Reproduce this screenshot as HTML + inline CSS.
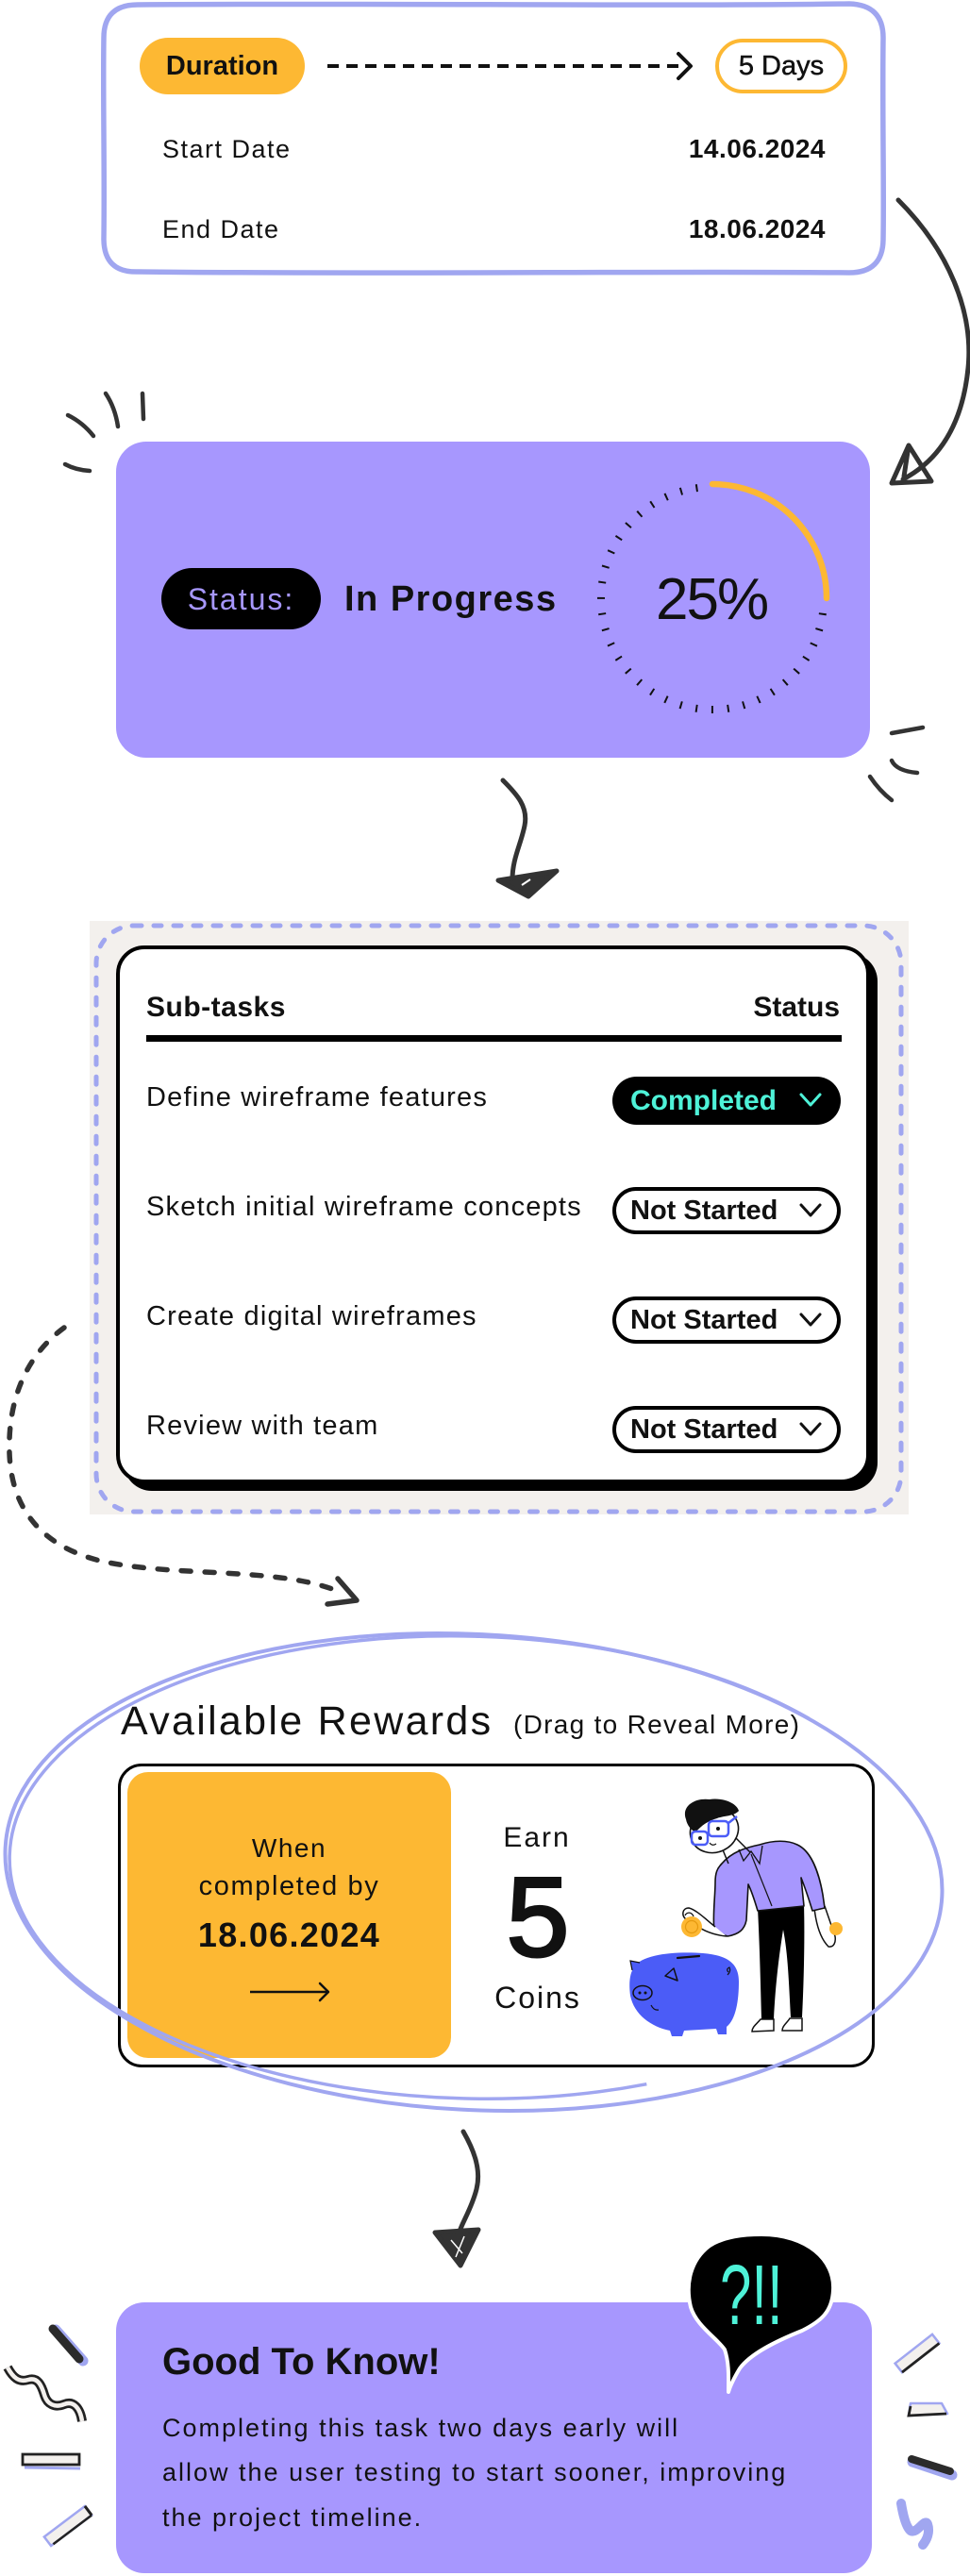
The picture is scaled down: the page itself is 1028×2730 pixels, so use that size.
<!DOCTYPE html>
<html>
<head>
<meta charset="utf-8">
<style>
  html,body{margin:0;padding:0;background:#fff;}
  body{width:1028px;height:2730px;position:relative;overflow:hidden;font-family:"Liberation Sans",Arial,sans-serif;color:#111;}
  .abs{position:absolute;}
  .t{position:absolute;line-height:1;white-space:nowrap;}
  .pill{position:absolute;box-sizing:border-box;display:flex;align-items:center;}
  svg{position:absolute;left:0;top:0;}
</style>
</head>
<body>

<!-- Backgrounds -->
<div class="abs" style="left:123px;top:468px;width:799px;height:335px;background:#A797FE;border-radius:32px;"></div>
<div class="abs" style="left:95px;top:976px;width:868px;height:629px;background:#F3F0ED;"></div>
<div class="abs" style="left:123px;top:1002px;width:799px;height:570px;box-sizing:border-box;background:#fff;border:4.5px solid #000;border-radius:30px;box-shadow:8px 8px 0 0 #000;"></div>
<div class="abs" style="left:125px;top:1869px;width:802px;height:322px;box-sizing:border-box;background:#fff;border:3.5px solid #000;border-radius:25px;"></div>
<div class="abs" style="left:135px;top:1878px;width:343px;height:303px;background:#FDB833;border-radius:22px;"></div>
<div class="abs" style="left:123px;top:2440px;width:801px;height:287px;background:#A797FE;border-radius:30px;"></div>

<!-- Status pill -->
<div class="pill" style="left:171px;top:602px;width:169px;height:65px;background:#000;border-radius:33px;justify-content:center;">
  <span style="font-size:32px;letter-spacing:2px;color:#A797FE;line-height:1;">Status:</span>
</div>

<!-- Duration pill -->
<div class="pill" style="left:148px;top:40px;width:175px;height:60px;background:#FDB833;border-radius:30px;justify-content:center;">
  <span style="font-size:29px;font-weight:bold;line-height:1;color:#111;">Duration</span>
</div>
<div class="pill" style="left:758px;top:41px;width:140px;height:58px;border:4px solid #FDB833;border-radius:29px;justify-content:center;background:#fff;">
  <span style="font-size:29px;line-height:1;color:#111;-webkit-text-stroke:0.5px #111;">5 Days</span>
</div>

<!-- SVG drawings -->
<svg width="1028" height="2730" viewBox="0 0 1028 2730" xmlns="http://www.w3.org/2000/svg">
  <!-- card 1 border -->
  <path d="M146,5 C400,3 700,7 900,4 Q936,5 936,40 C935,120 937,200 936,253 Q936,289 900,289 C700,287 400,291 146,288 Q110,289 110,253 C111,180 109,100 110,40 Q110,5 146,5 Z" fill="none" stroke="#A0A6F0" stroke-width="5.5"/>
  <!-- dashed duration arrow -->
  <line x1="347" y1="70" x2="726" y2="70" stroke="#111" stroke-width="4" stroke-dasharray="12 8"/>
  <polyline points="719,57 732,70 719,83" fill="none" stroke="#111" stroke-width="4" stroke-linecap="round" stroke-linejoin="round"/>

  <!-- curved arrow card1 -> card2 -->
  <path d="M952,212 C1005,265 1032,330 1026,390 C1020,450 995,488 957,508" fill="none" stroke="#333" stroke-width="5" stroke-linecap="round"/>
  <path d="M945,512 L963,472 L987,510 Z M963,472 L958,505" fill="none" stroke="#333" stroke-width="5" stroke-linejoin="round" stroke-linecap="round"/>

  <!-- decor around card 2 -->
  <g fill="none" stroke="#333" stroke-width="4.5" stroke-linecap="round">
    <path d="M72,440 Q88,448 99,462"/>
    <path d="M112,417 Q122,432 125,452"/>
    <path d="M151,417 L152,444"/>
    <path d="M69,492 Q80,498 95,499"/>
    <path d="M945,777 L978,771"/>
    <path d="M945,806 Q950,817 972,819"/>
    <path d="M922,823 Q932,838 945,848"/>
  </g>

  <!-- progress circle -->
  <path d="M872.71,642.23 A118,118 0 1 1 746.77,516.29" fill="none" stroke="#111" stroke-width="8" stroke-dasharray="2 14.85" stroke-dashoffset="-7.61"/>
  <path d="M755,513 A121,121 0 0 1 876,634" fill="none" stroke="#FDB833" stroke-width="6.5" stroke-linecap="round"/>

  <!-- arrow card2 -> subtasks -->
  <path d="M533,827 C548,842 560,855 556,875 C552,895 543,910 543,932" fill="none" stroke="#333" stroke-width="5" stroke-linecap="round"/>
  <path d="M528,933 L590,923 L560,950 Z" fill="#333" stroke="#333" stroke-width="5" stroke-linejoin="round"/>
  <path d="M553,938 L562,932" stroke="#fff" stroke-width="2"/>

  <!-- dashed lavender frame -->
  <rect x="102" y="981" width="853" height="621" rx="40" fill="none" stroke="#A0A6F0" stroke-width="5" stroke-dasharray="8 13" stroke-linecap="round"/>

  <!-- header line -->
  <rect x="155" y="1097" width="737" height="7" fill="#000"/>

  <!-- dashed left arc -->
  <path d="M68,1407 C30,1435 8,1480 10,1540 C12,1600 45,1640 110,1655 C190,1672 300,1660 362,1688" fill="none" stroke="#333" stroke-width="5.5" stroke-dasharray="10 15" stroke-linecap="round"/>
  <polyline points="358,1673 378,1696 347,1700" fill="none" stroke="#333" stroke-width="5.5" stroke-linecap="round" stroke-linejoin="round"/>

  <!-- reward arrow -->
  <line x1="265" y1="2111" x2="347" y2="2111" stroke="#111" stroke-width="2.5"/>
  <polyline points="339,2102 348,2111 339,2120" fill="none" stroke="#111" stroke-width="2.5" stroke-linecap="round" stroke-linejoin="round"/>

  <!-- illustration: piggy -->
  <path d="M672,2085 C680,2070 720,2068 745,2070 C770,2072 783,2080 783,2100 C783,2120 780,2140 770,2148 L770,2156 L761,2156 L759,2150 L725,2152 L723,2158 L712,2158 L710,2152 C690,2148 672,2135 668,2115 C666,2100 668,2090 672,2085 Z" fill="#4B5CF7"/>
  <path d="M670,2088 L668,2078 L678,2080" fill="#4B5CF7" stroke="#111" stroke-width="1.2"/>
  <ellipse cx="681" cy="2112" rx="10" ry="7.5" fill="#4B5CF7" stroke="#111" stroke-width="1.5"/>
  <circle cx="678" cy="2112" r="1.5" fill="#111"/><circle cx="684" cy="2112" r="1.5" fill="#111"/>
  <line x1="718" y1="2075" x2="741" y2="2073" stroke="#111" stroke-width="2.2" stroke-linecap="round"/>
  <path d="M705,2094 L714,2086 L718,2099 Z" fill="none" stroke="#111" stroke-width="1.5" stroke-linejoin="round"/>
  <path d="M690,2125 Q693,2131 698,2130" fill="none" stroke="#111" stroke-width="1.2"/>
  <path d="M771,2093 q4,-4 2,-8 q-4,2 -1,5" fill="none" stroke="#111" stroke-width="1.2"/>

  <!-- illustration: man -->
  <!-- pants -->
  <path d="M803,2022 L852,2018 C853,2050 852,2100 850,2138 L838,2138 C836,2100 835,2070 830,2045 C826,2070 822,2100 820,2140 L807,2140 C806,2100 805,2060 803,2022 Z" fill="#000"/>
  <!-- shoes -->
  <path d="M806,2140 L820,2140 L820,2152 L797,2153 C797,2148 802,2145 806,2140 Z" fill="#fff" stroke="#111" stroke-width="1.5"/>
  <path d="M837,2139 L850,2139 L850,2152 L829,2152 C829,2147 834,2144 837,2139 Z" fill="#fff" stroke="#111" stroke-width="1.5"/>
  <!-- right forearm -->
  <path d="M863,2022 C865,2040 870,2055 878,2063 C884,2064 886,2058 885,2052 L874,2020" fill="#fff" stroke="#111" stroke-width="1.5"/>
  <circle cx="886" cy="2044" r="7" fill="#FDB833"/>
  <!-- shirt -->
  <path d="M765,1975 C775,1963 790,1958 805,1955 C820,1950 835,1950 845,1955 C860,1962 868,1985 872,2008 L874,2022 L861,2025 C857,2012 853,2000 849,1990 L852,2020 L803,2025 C800,2015 796,2003 793,1997 L791,2035 C789,2045 783,2050 771,2052 L757,2047 C755,2030 758,2010 758,1995 C758,1985 760,1980 765,1975 Z" fill="#A797FE" stroke="#111" stroke-width="1.6" stroke-linejoin="round"/>
  <path d="M783,1960 L788,1972 L796,1962 L805,1975 L808,1956" fill="none" stroke="#111" stroke-width="1.3"/>
  <line x1="796" y1="1965" x2="818" y2="2020" stroke="#111" stroke-width="1.2"/>
  <!-- left forearm + hand -->
  <path d="M758,2042 C748,2034 738,2024 730,2022 C723,2022 722,2030 727,2034 C737,2040 748,2050 770,2052" fill="#fff" stroke="#111" stroke-width="1.5"/>
  <circle cx="733" cy="2042" r="11" fill="#FDB833"/>
  <circle cx="733" cy="2042" r="6.5" fill="none" stroke="#E59A10" stroke-width="1.2"/>
  <path d="M726,2030 C728,2026 733,2026 735,2031" fill="#fff" stroke="#111" stroke-width="1.3"/>
  <!-- neck -->
  <path d="M765,1958 L772,1975 M780,1948 L795,1963" stroke="#111" stroke-width="1.5" fill="none"/>
  <!-- head -->
  <ellipse cx="757" cy="1940" rx="26" ry="23" transform="rotate(-25 757 1940)" fill="#fff" stroke="#111" stroke-width="1.6"/>
  <path d="M727,1928 C722,1915 735,1905 752,1907 C765,1905 780,1910 783,1919 C778,1925 768,1924 760,1927 C750,1930 744,1934 737,1942 C732,1939 728,1934 727,1928 Z" fill="#111"/>
  <rect x="733" y="1941" width="17" height="14" rx="4" fill="none" stroke="#4B5CF7" stroke-width="2.5"/>
  <rect x="751" y="1930" width="21" height="16" rx="4" fill="none" stroke="#4B5CF7" stroke-width="2.5"/>
  <line x1="772" y1="1932" x2="781" y2="1925" stroke="#4B5CF7" stroke-width="2.5"/>
  <circle cx="742" cy="1948" r="2" fill="#111"/><circle cx="761" cy="1938" r="2" fill="#111"/>
  <path d="M752,1953 Q755,1957 759,1954" fill="none" stroke="#111" stroke-width="1.2"/>

  <!-- scribble ellipse -->
  <ellipse cx="502" cy="1984" rx="497" ry="252" transform="rotate(3 502 1984)" fill="none" stroke="#A0A6F0" stroke-width="4"/>
  <ellipse cx="497" cy="1979" rx="487" ry="245" transform="rotate(1.5 497 1979)" fill="none" stroke="#A0A6F0" stroke-width="3.5" stroke-dasharray="1745 624" stroke-dashoffset="-395"/>

  <!-- arrow rewards -> good to know -->
  <path d="M491,2259 C503,2280 510,2300 505,2320 C500,2340 490,2355 487,2365" fill="none" stroke="#333" stroke-width="5" stroke-linecap="round"/>
  <path d="M461,2366 L507,2363 L488,2401 Z" fill="#333" stroke="#333" stroke-width="5" stroke-linejoin="round"/>
  <path d="M478,2374 L490,2388 M492,2370 L483,2392" stroke="#fff" stroke-width="1.5"/>

  <!-- speech bubble -->
  <path d="M807,2368 C855,2368 885,2395 883,2427 C882,2450 870,2460 850,2470 C820,2482 795,2495 784,2510 C778,2520 774,2528 772,2535 C772,2520 773,2505 768,2490 C760,2478 738,2465 732,2445 C726,2420 732,2395 752,2380 C768,2370 788,2368 807,2368 Z" fill="#000" stroke="#fff" stroke-width="4" stroke-linejoin="round"/>
  <text transform="translate(763,2463) scale(1,1.5)" font-family="Liberation Sans, sans-serif" font-size="60" fill="#4EF2D8">?!!</text>

  <!-- left decor -->
  <line x1="59" y1="2469" x2="88" y2="2502" stroke="#A0A6F0" stroke-width="11" stroke-linecap="round"/>
  <line x1="56" y1="2468" x2="84" y2="2500" stroke="#2B2B2B" stroke-width="9" stroke-linecap="round"/>
  <path d="M8,2509 C14,2520 20,2525 30,2522 C40,2519 44,2528 47,2538 C50,2548 58,2552 68,2548 C78,2544 85,2552 87,2566" fill="none" stroke="#222" stroke-width="10" stroke-linecap="butt"/>
  <path d="M8,2509 C14,2520 20,2525 30,2522 C40,2519 44,2528 47,2538 C50,2548 58,2552 68,2548 C78,2544 85,2552 87,2566" fill="none" stroke="#F3F0ED" stroke-width="4.5"/>
  <line x1="26" y1="2615" x2="85" y2="2616" stroke="#A0A6F0" stroke-width="3"/>
  <rect x="24" y="2601" width="60" height="11" fill="#F3F0ED" stroke="#222" stroke-width="2.8"/>
  <g transform="rotate(-37 72 2677)">
    <rect x="45" y="2671" width="54" height="12" fill="#F3F0ED" stroke="#A0A6F0" stroke-width="2.5"/>
    <line x1="48" y1="2683" x2="99" y2="2683" stroke="#222" stroke-width="2.5"/>
    <line x1="99" y1="2671" x2="99" y2="2683" stroke="#222" stroke-width="3"/>
  </g>

  <!-- right decor -->
  <g transform="rotate(-38 972 2494)">
    <rect x="947" y="2488" width="50" height="12" fill="#F3F0ED" stroke="#A0A6F0" stroke-width="2.5"/>
    <line x1="947" y1="2500" x2="997" y2="2500" stroke="#222" stroke-width="2.8"/>
  </g>
  <path d="M965,2547 L998,2547 L1004,2558 L963,2560 Z" fill="#F3F0ED" stroke="#A0A6F0" stroke-width="2.5" stroke-linejoin="round"/>
  <path d="M965,2550 L963,2560 L1003,2558" fill="none" stroke="#222" stroke-width="2.8"/>
  <line x1="967" y1="2609" x2="1009" y2="2623" stroke="#A0A6F0" stroke-width="11" stroke-linecap="round"/>
  <line x1="966" y1="2606" x2="1007" y2="2619" stroke="#2B2B2B" stroke-width="8" stroke-linecap="round"/>
  <path d="M955,2653 C957,2665 960,2678 965,2682 C972,2686 980,2668 983,2675 C986,2684 982,2692 978,2697" fill="none" stroke="#A0A6F0" stroke-width="10" stroke-linecap="round" stroke-linejoin="round"/>
</svg>

<!-- Card 1 text -->
<div class="t" style="left:172px;top:145px;font-size:27px;letter-spacing:1.5px;">Start Date</div>
<div class="t" style="right:153px;top:144px;font-size:28px;font-weight:bold;letter-spacing:0.5px;">14.06.2024</div>
<div class="t" style="left:172px;top:230px;font-size:27px;letter-spacing:1.5px;">End Date</div>
<div class="t" style="right:153px;top:229px;font-size:28px;font-weight:bold;letter-spacing:0.5px;">18.06.2024</div>

<!-- Card 2 text -->
<div class="t" style="left:365px;top:616px;font-size:38px;font-weight:bold;letter-spacing:1.5px;">In Progress</div>
<div class="t" style="left:695px;top:605px;font-size:62px;letter-spacing:-2px;">25%</div>

<!-- Subtasks -->
<div class="t" style="left:155px;top:1053px;font-size:30px;font-weight:bold;letter-spacing:0.5px;">Sub-tasks</div>
<div class="t" style="right:138px;top:1053px;font-size:30px;font-weight:bold;">Status</div>

<div class="t" style="left:155px;top:1149px;font-size:29px;letter-spacing:1.2px;">Define wireframe features</div>
<div class="t" style="left:155px;top:1265px;font-size:29px;letter-spacing:1.2px;">Sketch initial wireframe concepts</div>
<div class="t" style="left:155px;top:1381px;font-size:29px;letter-spacing:1.2px;">Create digital wireframes</div>
<div class="t" style="left:155px;top:1497px;font-size:29px;letter-spacing:1.2px;">Review with team</div>

<div class="pill" style="left:649px;top:1141px;width:242px;height:51px;background:#000;border-radius:26px;padding-left:19px;">
  <span style="font-size:30px;font-weight:bold;color:#4EF2D8;line-height:1;">Completed</span>
  <svg width="30" height="20" style="left:197px;top:15px;"><polyline points="3,4 13,15 23,4" fill="none" stroke="#4EF2D8" stroke-width="3" stroke-linecap="round" stroke-linejoin="round"/></svg>
</div>
<div class="pill" style="left:649px;top:1258px;width:242px;height:50px;background:#fff;border:4px solid #000;border-radius:25px;padding-left:15px;">
  <span style="font-size:29px;font-weight:bold;line-height:1;color:#111;">Not Started</span>
  <svg width="30" height="20" style="left:193px;top:11px;"><polyline points="3,4 13,15 23,4" fill="none" stroke="#111" stroke-width="3" stroke-linecap="round" stroke-linejoin="round"/></svg>
</div>
<div class="pill" style="left:649px;top:1374px;width:242px;height:50px;background:#fff;border:4px solid #000;border-radius:25px;padding-left:15px;">
  <span style="font-size:29px;font-weight:bold;line-height:1;color:#111;">Not Started</span>
  <svg width="30" height="20" style="left:193px;top:11px;"><polyline points="3,4 13,15 23,4" fill="none" stroke="#111" stroke-width="3" stroke-linecap="round" stroke-linejoin="round"/></svg>
</div>
<div class="pill" style="left:649px;top:1490px;width:242px;height:50px;background:#fff;border:4px solid #000;border-radius:25px;padding-left:15px;">
  <span style="font-size:29px;font-weight:bold;line-height:1;color:#111;">Not Started</span>
  <svg width="30" height="20" style="left:193px;top:11px;"><polyline points="3,4 13,15 23,4" fill="none" stroke="#111" stroke-width="3" stroke-linecap="round" stroke-linejoin="round"/></svg>
</div>

<!-- Rewards -->
<div class="t" style="left:128px;top:1803px;font-size:43px;letter-spacing:2.3px;">Available Rewards</div>
<div class="t" style="left:544px;top:1814px;font-size:28px;letter-spacing:1.3px;">(Drag to Reveal More)</div>

<div class="t" style="left:135px;width:343px;text-align:center;top:1945px;font-size:28px;letter-spacing:1.5px;">When</div>
<div class="t" style="left:135px;width:343px;text-align:center;top:1985px;font-size:29px;letter-spacing:1.6px;">completed by</div>
<div class="t" style="left:135px;width:343px;text-align:center;top:2033px;font-size:36px;font-weight:bold;letter-spacing:1.3px;">18.06.2024</div>

<div class="t" style="left:500px;width:138px;text-align:center;top:1933px;font-size:30px;letter-spacing:2px;">Earn</div>
<div class="t" style="left:500px;width:140px;text-align:center;top:1972px;font-size:120px;-webkit-text-stroke:3px #111;">5</div>
<div class="t" style="left:500px;width:140px;text-align:center;top:2101px;font-size:32px;letter-spacing:2px;">Coins</div>

<!-- Good to know -->
<div class="t" style="left:172px;top:2483px;font-size:40px;font-weight:bold;">Good To Know!</div>
<div class="t" style="left:172px;top:2560px;font-size:27px;letter-spacing:2px;">Completing this task two days early will</div>
<div class="t" style="left:172px;top:2607px;font-size:27px;letter-spacing:2px;">allow the user testing to start sooner, improving</div>
<div class="t" style="left:172px;top:2655px;font-size:27px;letter-spacing:2px;">the project timeline.</div>

</body>
</html>
